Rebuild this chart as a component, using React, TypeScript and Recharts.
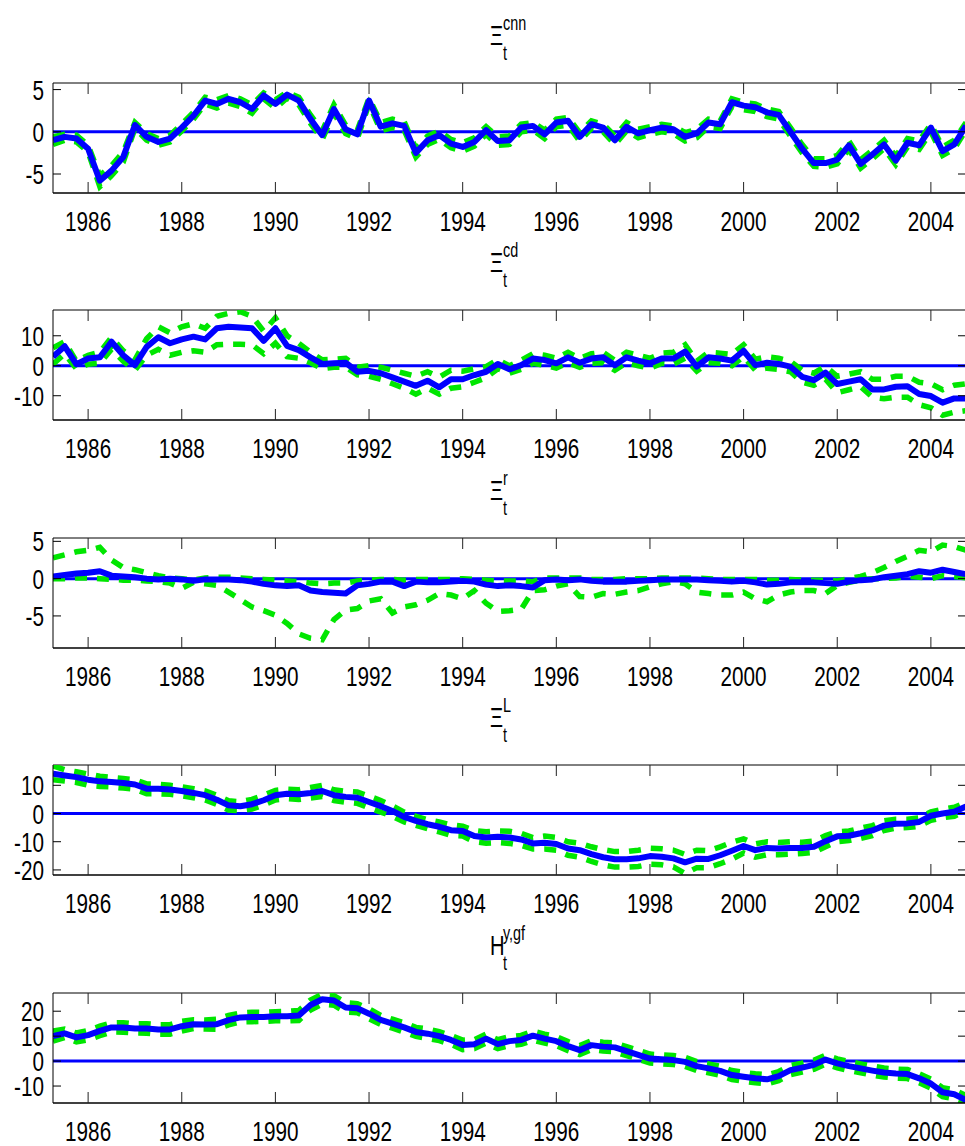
import React from 'react'
import { LineChart, Line, XAxis, YAxis, ReferenceLine } from 'recharts'

// quarterly sample 1985Q2 .. 2004Q4
const firstQuarter = 1985.25
const lastQuarter = 2004.75
const quarters = Array.from({ length: 79 }, (_, i) => firstQuarter + i / 4)
const yearTicks = [1986, 1988, 1990, 1992, 1994, 1996, 1998, 2000, 2002, 2004]

// Xi^cnn
const cnnMid = [
  -1.0, -0.6, -0.8, -2.0, -5.8, -4.6, -3.0, 0.8, -0.6, -1.2,
  -0.8, 0.5, 1.9, 3.7, 3.3, 3.9, 3.5, 2.7, 4.3, 3.3,
  4.4, 3.7, 1.5, -0.4, 2.7, 0.3, -0.3, 3.7, 0.6, 1.0,
  0.7, -2.5, -1.0, -0.4, -1.4, -1.8, -1.2, 0.2, -1.1, -1.0,
  0.5, 0.7, -0.3, 1.1, 1.3, -0.6, 0.9, 0.5, -1.0, 0.6,
  -0.2, 0.2, 0.5, 0.3, -0.6, -0.2, 1.1, 0.9, 3.5, 3.1,
  2.9, 2.3, 2.0, 0.0, -2.0, -3.7, -3.7, -3.3, -1.6, -3.8,
  -2.7, -1.5, -3.4, -1.3, -1.6, 0.5, -2.3, -1.5, 0.7,
]
const cnnHi = [
  -0.6, -0.3, -0.4, -1.6, -5.2, -4.0, -2.4, 1.1, -0.2, -0.8,
  -0.4, 0.9, 2.3, 4.1, 3.8, 4.3, 3.9, 3.2, 4.6, 3.8,
  4.7, 4.1, 2.0, 0.1, 3.2, 0.8, 0.2, 4.0, 1.1, 1.5,
  1.2, -2.0, -0.5, 0.1, -0.9, -1.3, -0.7, 0.6, -0.6, -0.5,
  0.9, 1.1, 0.2, 1.5, 1.7, -0.1, 1.3, 0.9, -0.5, 1.1,
  0.3, 0.6, 0.9, 0.7, -0.1, 0.3, 1.5, 1.3, 3.9, 3.5,
  3.3, 2.7, 2.4, 0.5, -1.5, -3.2, -3.2, -2.8, -1.1, -3.3,
  -2.2, -1.0, -2.9, -0.8, -1.1, 0.9, -1.8, -1.0, 1.1,
]
const cnnLo = [
  -1.5, -1.0, -1.2, -2.4, -6.5, -5.2, -3.6, 0.4, -1.0, -1.6,
  -1.2, 0.1, 1.5, 3.3, 2.8, 3.4, 3.0, 2.2, 3.9, 2.8,
  4.0, 3.2, 1.0, -0.9, 2.2, -0.2, -0.8, 3.3, 0.1, 0.5,
  0.2, -3.0, -1.5, -0.9, -1.9, -2.3, -1.7, -0.3, -1.6, -1.5,
  0.0, 0.2, -0.8, 0.6, 0.8, -1.1, 0.4, 0.0, -1.5, 0.1,
  -0.7, -0.3, 0.0, -0.2, -1.1, -0.7, 0.6, 0.4, 3.0, 2.6,
  2.4, 1.8, 1.5, -0.5, -2.5, -4.1, -4.2, -3.8, -2.1, -4.3,
  -3.2, -2.0, -3.9, -1.8, -2.1, 0.0, -2.8, -2.0, 0.2,
]

// Xi^cd
const cdMid = [
  3.0, 6.5, 0.5, 2.4, 2.8, 8.0, 3.5, 0.2, 6.3, 9.5,
  7.5, 8.8, 9.7, 8.8, 12.5, 13.0, 12.8, 12.5, 8.3, 12.5,
  6.6, 5.2, 2.8, 0.6, 0.8, 1.0, -2.0, -1.7, -2.5, -3.9,
  -5.3, -6.7, -5.0, -7.2, -4.5, -4.5, -3.1, -2.0, 0.6, -1.2,
  0.2, 2.4, 1.9, 0.8, 2.8, 1.0, 2.4, 2.8, 0.2, 2.8,
  1.7, 0.8, 2.4, 2.4, 4.7, -0.3, 2.8, 2.4, 1.7, 5.0,
  0.2, 1.0, 0.6, -0.3, -3.7, -4.8, -2.3, -6.1, -5.3, -4.5,
  -7.9, -7.9, -7.0, -6.8, -9.4, -10.1, -12.3, -10.9, -10.9,
]
const cdHi = [
  6.0, 8.0, 1.5, 3.5, 4.5, 9.5, 5.0, 2.0, 9.0, 13.0,
  11.0, 13.0, 14.0, 12.5, 16.5, 17.5, 18.0, 16.5, 11.5, 16.0,
  10.0, 7.5, 4.5, 2.0, 2.2, 2.5, -0.5, 0.0, -0.5, -1.5,
  -2.5, -3.5, -2.0, -3.8, -1.5, -1.8, -1.0, -0.3, 2.0, 0.0,
  1.8, 4.0, 3.5, 2.5, 4.5, 2.5, 4.0, 4.5, 1.8, 4.5,
  3.5, 2.5, 4.2, 4.5, 7.0, 1.5, 4.5, 4.2, 3.8, 7.0,
  2.2, 3.0, 2.5, 1.5, -1.5, -2.5, -0.2, -3.5, -2.8, -2.0,
  -4.5, -4.5, -3.5, -3.5, -5.5, -6.0, -8.0, -6.5, -6.0,
]
const cdLo = [
  0.5, 4.0, -1.0, 0.5, 0.8, 5.5, 1.5, -1.5, 3.5, 5.5,
  3.5, 4.5, 5.0, 4.5, 7.0, 7.2, 7.2, 7.0, 4.0, 7.5,
  3.0, 2.5, 1.0, -1.0, -0.5, -0.5, -3.0, -3.5, -4.5, -6.0,
  -7.5, -9.5, -7.5, -9.5, -7.5, -7.0, -5.5, -4.0, -1.0, -2.5,
  -1.2, 0.8, 0.2, -0.8, 1.0, -0.5, 0.8, 1.0, -1.5, 1.0,
  0.0, -0.8, 0.8, 0.5, 2.5, -1.8, 1.0, 0.8, 0.0, 3.0,
  -1.5, -0.8, -1.2, -2.0, -5.5, -6.5, -4.5, -9.0, -8.0, -7.0,
  -10.5, -11.0, -10.5, -10.5, -13.0, -14.0, -16.5, -15.5, -15.0,
]

// Xi^r
const rMid = [
  0.3, 0.5, 0.7, 0.8, 1.0, 0.4, 0.3, 0.2, 0.0, -0.1,
  0.0, -0.1, -0.3, -0.1, -0.1, -0.1, -0.2, -0.4, -0.7, -0.9,
  -1.0, -0.9, -1.6, -1.8, -1.9, -2.0, -0.9, -0.7, -0.4, -0.4,
  -1.0, -0.4, -0.5, -0.5, -0.4, -0.3, -0.4, -0.8, -1.0, -0.9,
  -1.0, -1.2, -0.2, -0.1, -0.2, -0.1, -0.3, -0.4, -0.4, -0.4,
  -0.3, -0.2, -0.1, -0.1, -0.1, -0.1, -0.2, -0.3, -0.4, -0.3,
  -0.5, -0.8, -0.7, -0.5, -0.5, -0.5, -0.6, -0.7, -0.4, -0.2,
  -0.1, 0.2, 0.4, 0.6, 1.0, 0.8, 1.2, 0.9, 0.6,
]
const rHi = [
  2.8, 3.2, 3.6, 3.8, 4.2, 2.5, 1.5, 1.2, 0.8, 0.4,
  0.1, 0.0, -0.2, 0.1, 0.2, 0.2, 0.1, 0.0, -0.1, -0.2,
  -0.3, -0.4, -0.6, -0.7, -0.6, -0.6, -0.3, -0.2, -0.1, -0.1,
  -0.2, -0.1, -0.1, -0.1, -0.1, 0.0, -0.1, -0.2, -0.3, -0.3,
  -0.3, -0.4, 0.1, 0.1, 0.1, 0.1, -0.1, -0.1, -0.1, 0.0,
  0.0, 0.0, 0.1, 0.1, 0.1, 0.1, 0.0, -0.1, -0.1, -0.1,
  -0.1, -0.2, -0.2, -0.1, -0.2, -0.2, -0.2, -0.3, 0.0, 0.3,
  0.8, 1.5, 2.3, 3.0, 3.8, 3.6, 4.5, 4.3, 3.8,
]
const rLo = [
  0.0, 0.0, 0.1, 0.1, 0.0, -0.1, -0.2, -0.2, -0.3, -0.4,
  -0.6, -1.3, -0.5, -0.7, -0.9, -1.8, -2.8, -3.8, -4.3, -4.9,
  -6.0, -7.4, -8.0, -8.2, -5.5, -4.2, -4.0, -3.0, -2.7, -4.6,
  -3.8, -3.5, -2.9, -2.0, -2.2, -2.7, -1.6, -3.3, -4.4, -4.3,
  -4.1, -1.6, -1.5, -1.0, -0.7, -2.4, -2.5, -2.0, -2.1, -1.8,
  -1.6, -1.1, -0.7, -0.4, -0.7, -1.8, -2.0, -2.2, -2.2, -1.8,
  -2.7, -3.1, -2.2, -1.8, -1.6, -1.6, -2.0, -0.9, -0.5, -0.2,
  0.0, 0.0, 0.1, 0.3, 0.2, 0.0, 0.4, 0.3, 0.1,
]

// Xi^L
const lMid = [
  14.1, 13.5, 12.9, 12.0, 11.4, 11.2, 10.8, 10.3, 8.8, 8.8,
  8.5, 8.0, 7.3, 6.5, 4.9, 2.9, 2.6, 3.3, 4.7, 6.5,
  7.0, 6.8, 7.3, 8.0, 6.5, 5.9, 5.6, 4.1, 2.6, 0.9,
  -1.2, -2.6, -3.8, -4.7, -5.9, -6.2, -8.0, -8.5, -8.2, -8.5,
  -9.2, -10.6, -10.4, -10.8, -12.4, -13.0, -14.4, -15.5, -16.2, -16.2,
  -15.9, -15.1, -15.3, -15.9, -17.3, -16.0, -16.1, -14.8, -13.2, -11.5,
  -13.0, -12.2, -12.4, -12.2, -12.2, -11.8, -9.8, -8.1, -7.9, -7.0,
  -6.0, -4.3, -3.6, -3.5, -3.0, -0.8, 0.0, 0.6, 2.5,
]
const lHi = [
  16.9, 15.5, 14.8, 14.0, 13.2, 12.8, 12.4, 12.0, 10.5, 10.4,
  10.0, 9.5, 8.8, 8.0, 6.5, 4.5, 4.2, 5.0, 6.5, 8.2,
  8.6, 8.4, 9.2, 10.0, 8.4, 7.9, 7.6, 6.2, 4.6, 2.7,
  0.5, -1.0, -2.2, -3.0, -4.0, -4.5, -6.0, -6.5, -6.2, -6.3,
  -7.0, -8.5, -8.0, -8.5, -10.0, -10.5, -11.8, -12.8, -13.5, -13.5,
  -13.0, -12.3, -12.5, -13.0, -14.5, -13.0, -13.2, -11.8, -10.2, -9.0,
  -10.8, -10.0, -10.3, -10.0, -10.2, -9.8, -7.8, -6.5, -6.2, -5.2,
  -4.3, -2.6, -2.0, -2.0, -1.5, 0.6, 1.5, 2.2, 4.0,
]
const lLo = [
  12.0, 11.5, 11.0, 10.0, 9.6, 9.4, 9.0, 8.6, 7.0, 7.0,
  6.8, 6.3, 5.6, 4.8, 3.2, 1.2, 1.0, 1.6, 3.0, 4.8,
  5.3, 5.0, 5.5, 6.0, 4.6, 4.0, 3.6, 2.0, 0.5, -1.0,
  -3.0, -4.2, -5.4, -6.5, -7.8, -8.0, -10.0, -10.5, -10.3, -10.6,
  -11.3, -12.6, -12.6, -13.0, -14.8, -15.5, -17.0, -18.2, -19.0, -19.0,
  -18.8, -18.0, -18.2, -18.9, -21.3, -19.2, -19.2, -17.8, -16.2, -14.0,
  -15.5, -14.6, -14.6, -14.4, -14.2, -13.8, -11.8, -10.0, -9.6, -8.8,
  -7.8, -6.0, -5.2, -5.0, -4.5, -2.4, -1.5, -1.0, 1.0,
]

// H^{y,gf}
const hMid = [
  10.0, 11.1, 9.5, 10.4, 12.1, 13.5, 13.5, 13.1, 13.1, 12.7,
  12.7, 14.0, 14.8, 14.7, 14.8, 16.4, 17.5, 17.7, 17.7, 18.0,
  18.0, 18.3, 22.5, 24.8, 24.3, 21.5, 21.2, 19.0, 16.5, 15.0,
  13.5, 11.7, 11.0, 10.0, 8.5, 6.5, 6.8, 9.0, 6.8, 8.0,
  8.5, 10.2, 9.0, 8.0, 6.0, 4.4, 6.4, 5.8, 5.5, 4.0,
  2.5, 1.0, 0.7, 0.4, -0.3, -2.0, -2.9, -3.9, -5.6, -6.3,
  -6.9, -7.3, -6.0, -3.6, -2.6, -1.5, 0.6, -0.9, -2.0, -2.9,
  -3.8, -4.6, -5.0, -5.2, -6.9, -9.0, -12.5, -13.3, -15.6,
]
const hHi = [
  12.0, 12.8, 11.3, 12.3, 14.0, 15.3, 15.4, 14.9, 15.0, 14.6,
  14.6, 16.0, 16.6, 16.5, 16.8, 18.3, 19.3, 19.6, 19.5, 19.8,
  19.9, 20.3, 24.5, 26.8, 26.2, 23.4, 23.0, 21.0, 18.3, 16.8,
  15.4, 13.5, 12.9, 11.8, 10.3, 8.4, 8.6, 10.8, 8.6, 9.8,
  10.3, 12.0, 10.8, 9.8, 7.8, 6.2, 8.2, 7.6, 7.3, 5.8,
  4.3, 2.8, 2.5, 2.2, 1.5, -0.2, -1.1, -2.1, -3.8, -4.5,
  -5.1, -5.5, -4.2, -1.8, -0.8, 0.3, 2.4, 0.9, -0.2, -1.1,
  -2.0, -2.8, -3.2, -3.4, -5.1, -7.2, -10.7, -11.5, -13.8,
]
const hLo = [
  8.0, 9.4, 7.7, 8.5, 10.2, 11.7, 11.6, 11.3, 11.2, 10.8,
  10.8, 12.0, 13.0, 12.9, 12.8, 14.5, 15.7, 15.8, 15.9, 16.2,
  16.1, 16.3, 20.5, 22.8, 22.4, 19.6, 19.4, 17.0, 14.7, 13.2,
  11.6, 9.9, 9.1, 8.2, 6.7, 4.6, 5.0, 7.2, 5.0, 6.2,
  6.7, 8.4, 7.2, 6.2, 4.2, 2.6, 4.6, 4.0, 3.7, 2.2,
  0.7, -0.8, -1.1, -1.4, -2.1, -3.8, -4.7, -5.7, -7.4, -8.1,
  -8.7, -9.1, -7.8, -5.4, -4.4, -3.3, -1.2, -2.7, -3.8, -4.7,
  -5.6, -6.4, -6.8, -7.0, -8.7, -10.8, -14.3, -15.1, -16.8,
]

const BLUE = '#0000ff'
const GREEN = '#00e600'
const FONT = '"Liberation Sans", Arial, Helvetica, sans-serif'
const SQUEEZE = 0.74

const PAGE_W = 965
const PAGE_H = 1146
const CHART_W = 970
const PLOT_LEFT = 53
const PLOT_RIGHT = 966
const PLOT_W = PLOT_RIGHT - PLOT_LEFT
const PLOT_H = 110
const TOP_PAD = 60
const AXIS_H = 45

const panels = [
  { key: 'cnn', sym: 'Ξ', sup: 'cnn', top: 83, domain: [-7.25, 5.78], yTicks: [-5, 0, 5], mid: cnnMid, hi: cnnHi, lo: cnnLo },
  { key: 'cd', sym: 'Ξ', sup: 'cd', top: 310, domain: [-18.1, 18.6], yTicks: [-10, 0, 10], mid: cdMid, hi: cdHi, lo: cdLo },
  { key: 'r', sym: 'Ξ', sup: 'r', top: 537.5, domain: [-9.3, 5.45], yTicks: [-5, 0, 5], mid: rMid, hi: rHi, lo: rLo },
  { key: 'L', sym: 'Ξ', sup: 'L', top: 765, domain: [-21.8, 17.2], yTicks: [-20, -10, 0, 10], mid: lMid, hi: lHi, lo: lLo },
  { key: 'ygf', sym: 'H', sup: 'y,gf', top: 993, domain: [-16.8, 27.3], yTicks: [-10, 0, 10, 20], mid: hMid, hi: hHi, lo: hLo },
]

function XTick(props: any) {
  const { x, y, payload } = props
  return (
    <g>
      <line x1={x} x2={x} y1={y} y2={y - 11} stroke="#222" strokeWidth={1} />
      <line x1={x} x2={x} y1={y - PLOT_H} y2={y - PLOT_H + 11} stroke="#222" strokeWidth={1} />
      <text
        transform={`translate(${x},${y + 38}) scale(${SQUEEZE},1)`}
        textAnchor="middle"
        fontSize={28}
        fontFamily={FONT}
        fill="#000"
      >
        {payload.value}
      </text>
    </g>
  )
}

function YTick(props: any) {
  const { x, y, payload } = props
  return (
    <g>
      <line x1={x} x2={x + 8} y1={y} y2={y} stroke="#000" strokeWidth={1} />
      <line x1={x + PLOT_W - 8} x2={x + PLOT_W} y1={y} y2={y} stroke="#000" strokeWidth={1} />
      <text
        transform={`translate(${x - 9},${y + 10}) scale(${SQUEEZE},1)`}
        textAnchor="end"
        fontSize={28}
        fontFamily={FONT}
        fill="#000"
      >
        {payload.value}
      </text>
    </g>
  )
}

function PanelTitle({ top, sym, sup }: { top: number; sym: string; sup: string }) {
  const base = top - 38
  return (
    <g fontFamily={FONT} fill="#000">
      <text transform={`translate(490,${base}) scale(0.72,1)`} fontSize={28}>{sym}</text>
      <text transform={`translate(503,${base + 15}) scale(0.72,1)`} fontSize={20}>t</text>
      <text transform={`translate(503,${base - 15}) scale(0.72,1)`} fontSize={20}>{sup}</text>
    </g>
  )
}

function Panel({ p }: { p: (typeof panels)[number] }) {
  const rows = quarters.map((t, i) => ({ t, mid: p.mid[i], hi: p.hi[i], lo: p.lo[i] }))
  return (
    <div style={{ position: 'absolute', left: 0, top: p.top - TOP_PAD }}>
      <LineChart
        width={CHART_W}
        height={TOP_PAD + PLOT_H + AXIS_H}
        data={rows}
        margin={{ top: TOP_PAD, right: CHART_W - PLOT_RIGHT, bottom: 0, left: 0 }}
      >
        <XAxis
          dataKey="t"
          type="number"
          domain={[firstQuarter, lastQuarter]}
          ticks={yearTicks}
          interval={0}
          allowDataOverflow
          height={AXIS_H}
          tickSize={0}
          tickMargin={0}
          tickLine={false}
          axisLine={{ stroke: '#000', strokeWidth: 1.5 }}
          tick={(tp: any) => <XTick {...tp} />}
        />
        <YAxis
          type="number"
          domain={p.domain}
          ticks={p.yTicks}
          interval={0}
          allowDataOverflow
          width={PLOT_LEFT}
          tickSize={0}
          tickMargin={0}
          tickLine={false}
          axisLine={{ stroke: '#000', strokeWidth: 1 }}
          tick={(tp: any) => <YTick {...tp} />}
        />
        <ReferenceLine y={p.domain[1]} stroke="#000" strokeWidth={1} />
        <ReferenceLine x={lastQuarter} stroke="#000" strokeWidth={1} />
        <ReferenceLine y={0} stroke={BLUE} strokeWidth={3} />
        <Line
          dataKey="hi"
          type="linear"
          stroke={GREEN}
          strokeWidth={5.5}
          strokeDasharray="12 10"
          dot={false}
          isAnimationActive={false}
        />
        <Line
          dataKey="lo"
          type="linear"
          stroke={GREEN}
          strokeWidth={5.5}
          strokeDasharray="12 10"
          dot={false}
          isAnimationActive={false}
        />
        <Line
          dataKey="mid"
          type="linear"
          stroke={BLUE}
          strokeWidth={6}
          strokeLinejoin="round"
          dot={false}
          isAnimationActive={false}
        />
      </LineChart>
    </div>
  )
}

export default function App() {
  return (
    <div
      style={{
        position: 'absolute',
        left: 0,
        top: 0,
        width: PAGE_W,
        height: PAGE_H,
        overflow: 'hidden',
        background: '#fff',
      }}
    >
      {panels.map((p) => (
        <Panel key={p.key} p={p} />
      ))}
      <svg
        width={PAGE_W}
        height={PAGE_H}
        style={{ position: 'absolute', left: 0, top: 0, pointerEvents: 'none' }}
      >
        {panels.map((p) => (
          <PanelTitle key={p.key} top={p.top} sym={p.sym} sup={p.sup} />
        ))}
      </svg>
    </div>
  )
}
